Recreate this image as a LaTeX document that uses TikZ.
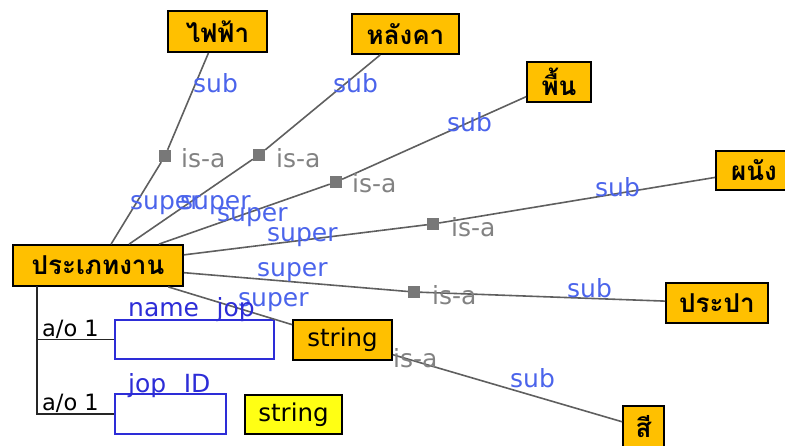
\documentclass[tikz,border=0pt]{standalone}
\usepackage{fontspec}
\setmainfont{DejaVu Sans}
\newfontfamily\thaifont[Script=Thai]{Loma}
\definecolor{boxorange}{RGB}{255,192,0}
\definecolor{boxyellow}{RGB}{255,255,20}
\definecolor{lblblue}{RGB}{75,100,235}
\definecolor{darkblue}{RGB}{45,45,215}
\definecolor{linegray}{RGB}{95,95,95}
\definecolor{sqgray}{RGB}{120,120,120}
\definecolor{isagray}{RGB}{130,130,130}
\begin{document}
\begin{tikzpicture}[x=1pt,y=-1pt,
  thaibox/.style={draw=black, line width=1.8pt, fill=boxorange, inner sep=0pt,
    font=\thaifont\bfseries\fontsize{26}{30}\selectfont},
  strbox/.style={draw=black, line width=1.8pt, inner sep=0pt,
    font=\fontsize{24.5}{28}\selectfont},
  slotbox/.style={draw=darkblue, line width=1.4pt, inner sep=0pt},
  isasq/.style={fill=sqgray, minimum size=12pt, inner sep=0pt},
  lbl/.style={anchor=base west, inner sep=0pt, font=\fontsize{25}{30}\selectfont},
  sublbl/.style={lbl, text=lblblue},
  isalbl/.style={lbl, text=isagray},
  slotlbl/.style={lbl, text=darkblue},
  aolbl/.style={anchor=base west, inner sep=0pt, font=\fontsize{22.5}{25}\selectfont, text=black},
  link/.style={draw=linegray, line width=1.6pt}
]
\useasboundingbox (0,0) rectangle (785,446);
\clip (0,0) rectangle (785,446);

% boxes
\node[thaibox, minimum width=99pt, minimum height=41pt] (fai) at (217.5,31.5) {ไฟฟ้า};
\node[thaibox, minimum width=107pt, minimum height=40pt] (roof) at (405.5,34) {หลังคา};
\node[thaibox, minimum width=64pt, minimum height=40pt] (floor) at (559,82) {พื้น};
\node[thaibox, minimum width=82pt, minimum height=39pt] (wall) at (757,170.5) {\hspace*{-6pt}ผนัง};
\node[thaibox, minimum width=170pt, minimum height=41pt] (job) at (98,265.5) {ประเภทงาน};
\node[thaibox, minimum width=102pt, minimum height=40pt] (water) at (717,303) {ประปา};
\node[strbox, fill=boxorange, minimum width=99pt, minimum height=40pt] (str1) at (342.5,340) {string};
\node[thaibox, minimum width=41pt, minimum height=44pt] (color) at (643.5,428) {\raisebox{3pt}{สี}};
\node[strbox, fill=boxyellow, minimum width=97pt, minimum height=39pt] (str2) at (293.5,414.5) {string};
\node[slotbox, minimum width=159pt, minimum height=39pt] (name) at (194.5,339.5) {};
\node[slotbox, minimum width=111pt, minimum height=40pt] (jid) at (170.5,414) {};

% is-a squares
\node[isasq] (s1) at (165,156) {};
\node[isasq] (s2) at (259,155) {};
\node[isasq] (s3) at (336,182) {};
\node[isasq] (s4) at (433,224) {};
\node[isasq] (s5) at (414,292) {};

% links
\draw[link] (job) -- (s1) -- (fai);
\draw[link] (job) -- (s2) -- (roof);
\draw[link] (job) -- (s3) -- (floor);
\draw[link] (job) -- (s4) -- (wall);
\draw[link] (job) -- (s5) -- (water);
\draw[link] (job) -- (str1);
\draw[link] (str1) -- (color);

% slot bracket
\coordinate (br) at (37,286);
\draw[draw=black!85, line width=1.4pt] (br) |- (name.west);
\draw[draw=black!85, line width=1.4pt] (br) |- (jid.west);

% labels
\node[sublbl] (sb1) at (193,93) {sub};
\node[sublbl] (sb2) at (333,93) {sub};
\node[sublbl] (sb3) at (447,132) {sub};
\node[sublbl] (sb4) at (595,197) {sub};
\node[sublbl] (sb5) at (567,298) {sub};
\node[sublbl] (sb6) at (510,388) {sub};

\node[sublbl] (sp1) at (130,210) {super};
\node[sublbl] (sp2) at (180,210) {super};
\node[sublbl] (sp3) at (217,222) {super};
\node[sublbl] (sp4) at (267,242) {super};
\node[sublbl] (sp5) at (257,277) {super};
\node[sublbl] (sp6) at (238,307) {super};

\node[isalbl] (i1) at (181,168) {is-a};
\node[isalbl] (i2) at (276,168) {is-a};
\node[isalbl] (i3) at (352,193) {is-a};
\node[isalbl] (i4) at (451,237) {is-a};
\node[isalbl] (i5) at (432,305) {is-a};
\node[isalbl] (i6) at (393,368) {is-a};

\node[slotlbl] (nl) at (128,317) {name\hspace{0.7em}jop};
\node[slotlbl] (jl) at (128,393) {jop\hspace{0.7em}ID};
\node[aolbl] (ao1) at (42,337) {a/o 1};
\node[aolbl] (ao2) at (42,410) {a/o 1};
\end{tikzpicture}
\end{document}
